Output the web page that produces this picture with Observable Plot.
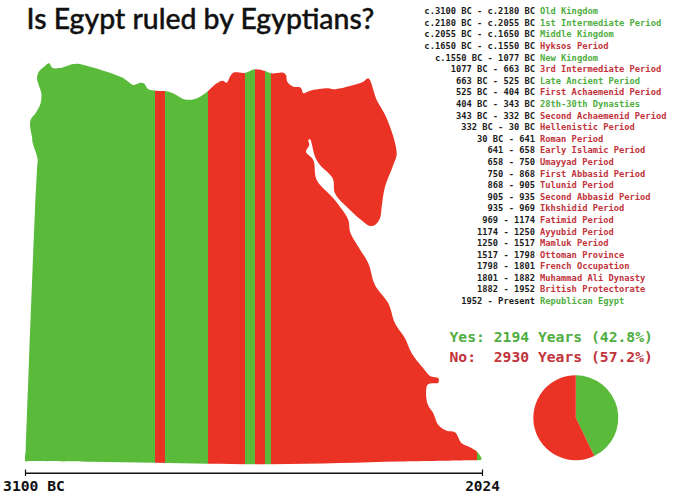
<!DOCTYPE html>
<html>
<head>
<meta charset="utf-8">
<script src="https://cdn.jsdelivr.net/npm/d3@7"></script>
<script src="https://cdn.jsdelivr.net/npm/@observablehq/plot@0.6"></script>
<style>
html,body{margin:0;padding:0;background:#fff}
svg{display:block}
</style>
</head>
<body>
<div id="chart"></div>
<script>
const chartTitle = "Is Egypt ruled by Egyptians?";
const periodRanges = ["c.3100 BC - c.2180 BC","c.2180 BC - c.2055 BC","c.2055 BC - c.1650 BC","c.1650 BC - c.1550 BC","c.1550 BC - 1077 BC","1077 BC - 663 BC","663 BC - 525 BC","525 BC - 404 BC","404 BC - 343 BC","343 BC - 332 BC","332 BC - 30 BC","30 BC - 641","641 - 658","658 - 750","750 - 868","868 - 905","905 - 935","935 - 969","969 - 1174","1174 - 1250","1250 - 1517","1517 - 1798","1798 - 1801","1801 - 1882","1882 - 1952","1952 - Present"];
const periodNames = ["Old Kingdom","1st Intermediate Period","Middle Kingdom","Hyksos Period","New Kingdom","3rd Intermediate Period","Late Ancient Period","First Achaemenid Period","28th-30th Dynasties","Second Achaemenid Period","Hellenistic Period","Roman Period","Early Islamic Period","Umayyad Period","First Abbasid Period","Tulunid Period","Second Abbasid Period","Ikhshidid Period","Fatimid Period","Ayyubid Period","Mamluk Period","Ottoman Province","French Occupation","Muhammad Ali Dynasty","British Protectorate","Republican Egypt"];
const periodStarts = [-3100,-2180,-2055,-1650,-1550,-1077,-663,-525,-404,-343,-332,-30,641,658,750,868,905,935,969,1174,1250,1517,1798,1801,1882,1952];
const periodEnds = [-2180,-2055,-1650,-1550,-1077,-663,-525,-404,-343,-332,-30,641,658,750,868,905,935,969,1174,1250,1517,1798,1801,1882,1952,2024];
const periodEgyptian = ["Yes","Yes","Yes","No","Yes","No","Yes","No","Yes","No","No","No","No","No","No","No","No","No","No","No","No","No","No","No","No","Yes"];
const summaryLabels = ["Yes","No"];
const summaryYears = [2194,2930];
const summaryText = ["Yes: 2194 Years (42.8%)","No:\u00a0\u00a02930 Years (57.2%)"];
const axisYears = [-3100,2024];
const axisLabels = ["3100 BC","2024"];

// Timeline calibration: year -> map column
const calYears = [-3100,-1650,-1550,-1077,-663,-525,-404,-343,1952,2024];
const calColumns = [25,155,165,208,245,254.5,265,271,477,482];

// Outline of Egypt (map column, map row)
const outlineColumn = [25.3,25.7,29,32.5,35,37.3,37.7,36,32.7,32,30,31,35.7,40.7,41.3,38.7,37,38.7,45,49,52.7,63.3,71.7,78.3,90,106.7,121.7,128.3,133.3,140,144,148.3,156.7,166.7,175,183.3,191.7,200,208.3,216.7,222.7,226.7,230,233.3,245,255,265,271,283.3,286,287.3,293.3,300,301.7,303.3,310,328.3,333.3,350,363.3,368.3,376.7,386.7,396.7,393.3,385,381.7,380,375,370,363.3,350,335,332.7,320,315,310,308.3,309.3,306,313.3,316.7,333.3,348.3,350,358.3,368.3,375,388.3,395,405,411.7,423.3,430,438.3,438.3,431.7,427.3,427.3,433.3,438.3,446.7,455,461.7,470,477.3,481.7,480,470,400,340,271.7,208.3,155,90,31];
const outlineRow = [461,450,360,270,210,165,160,153,143,137,125,119,113,103,93,85,78,72,66,63.3,68,67.3,64.3,63.7,66.7,71.7,77.3,81.7,85,82.7,83.3,89.3,90.7,91.3,94.3,99,99.7,96.7,90.7,83.3,80.7,82.7,76.7,72.7,72.9,69.3,71,73.3,72.7,75,81.7,86.7,87.3,89.3,93.3,90.7,88.3,89.3,86,81.7,78.3,100,118.3,153.3,165,186.7,206.7,218.3,225,226,221.7,210,193.3,178.3,165,156.7,139.3,140,145,151.7,160,180,198.3,220,231.7,246.7,263.3,285,303.3,323.3,338.3,353.3,368.3,376,378.3,382.7,383.3,385,403.3,413.3,425,430.7,432.3,443.3,447.3,452,459.3,460,460.2,461.5,463,464.3,463.7,462.7,461.8,461.1];

const GREEN = "#5aba39", RED = "#ea3324";
const TEXT_GREEN = "#4fae3f", TEXT_RED = "#c2343c";
const MONO = "'DejaVu Sans Mono', monospace";

const periods = periodNames.map((name,i)=>({name,range:periodRanges[i],start:periodStarts[i],end:periodEnds[i],egyptian:periodEgyptian[i],row:i}));
const yearToColumn = d3.scaleLinear(calYears,calColumns);
const listRow = d => 11 + d.row*11.59;

function clipToEgypt(index, scales, values, dims, ctx, next){
  const g = next(index, scales, values, dims, ctx);
  const line = d3.line().x(i=>scales.x(outlineColumn[i])).y(i=>scales.y(outlineRow[i])).curve(d3.curveCatmullRomClosed.alpha(0.5));
  const cp = d3.create("svg:clipPath").attr("id","egypt-clip");
  cp.append("path").attr("d",line(d3.range(outlineColumn.length)));
  const wrap = document.createElementNS("http://www.w3.org/2000/svg","g");
  wrap.appendChild(cp.node());
  wrap.setAttribute("clip-path","url(#egypt-clip)");
  wrap.appendChild(g);
  return wrap;
}

const pieArcs = d3.pie().sort(null)(summaryYears);
const wedge = arc => ({draw(context,size){
  const r = Math.sqrt(size/Math.PI);
  d3.arc().context(context)({innerRadius:0,outerRadius:r,startAngle:arc.startAngle,endAngle:arc.endAngle});
}});
const pieColor = [GREEN,RED];

const listMark = (group,color)=>[
  Plot.text(periods,{filter:d=>d.egyptian===group,frameAnchor:"left",dx:534.5,y:listRow,text:"range",textAnchor:"end",fill:"#1c1c1c",fontFamily:MONO,fontSize:8.75,fontWeight:"bold"}),
  Plot.text(periods,{filter:d=>d.egyptian===group,frameAnchor:"left",dx:539.5,y:listRow,text:"name",textAnchor:"start",fill:color,fontFamily:MONO,fontSize:8.75,fontWeight:"bold"})
];

const plot = Plot.plot({
  width:680,height:497,margin:0,
  style:{background:"#fff"},
  x:{axis:null,transform:yearToColumn,domain:[0,680],range:[0,680]},
  y:{axis:null,domain:[0,497],range:[0,497]},
  color:{domain:summaryLabels,range:[GREEN,RED]},
  marks:[
    Plot.rect(periods,{x1:"start",x2:"end",y1:()=>55,y2:()=>470,fill:"egyptian",shapeRendering:"crispEdges",render:clipToEgypt}),
    Plot.ruleY([472.7],{x1:()=>axisYears[0],x2:()=>axisYears[1],stroke:"#111",strokeWidth:1.4}),
    Plot.ruleX(axisYears,{y1:()=>469.5,y2:()=>476,stroke:"#111",strokeWidth:1.2}),
    Plot.text([axisLabels[0]],{x:()=>axisYears[0],y:()=>486,dx:8.5,text:d=>d,textAnchor:"middle",fontFamily:MONO,fontWeight:"bold",fontSize:14.7,fill:"#111"}),
    Plot.text([axisLabels[1]],{x:()=>axisYears[1],y:()=>486,text:d=>d,textAnchor:"middle",fontFamily:MONO,fontWeight:"bold",fontSize:14.4,fill:"#111"}),
    Plot.text([chartTitle],{frameAnchor:"top-left",dx:26,dy:19,text:d=>d,lineAnchor:"middle",textAnchor:"start",fontFamily:"Lato",fontSize:28.4,fontWeight:"500",fill:"#111",stroke:"#111",strokeWidth:0.4}),
    ...listMark("Yes",TEXT_GREEN),
    ...listMark("No",TEXT_RED),
    Plot.text([summaryText[0]],{frameAnchor:"left",dx:449,y:()=>337,text:d=>d,textAnchor:"start",fontFamily:MONO,fontWeight:"bold",fontSize:14.7,fill:TEXT_GREEN}),
    Plot.text([summaryText[1]],{frameAnchor:"left",dx:449,y:()=>356.7,text:d=>d,textAnchor:"start",fontFamily:MONO,fontWeight:"bold",fontSize:14.7,fill:TEXT_RED}),
    ...pieArcs.map((arc,i)=>Plot.dot([summaryLabels[i]],{frameAnchor:"top-left",dx:575.3,dy:417.3,r:42.5,symbol:wedge(arc),fill:pieColor[i],stroke:"none"}))
  ]
});
document.getElementById("chart").appendChild(plot);
</script>
</body>
</html>
